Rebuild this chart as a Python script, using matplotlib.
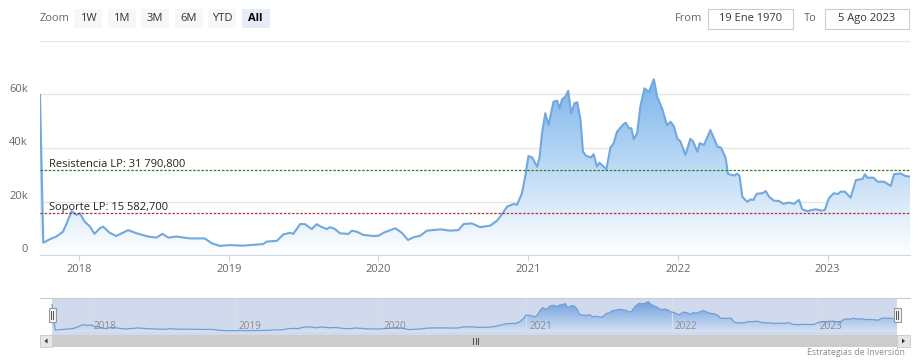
import numpy as np
import matplotlib
matplotlib.use("Agg")
import matplotlib.pyplot as plt
import matplotlib.dates as mdates
from matplotlib.patches import Rectangle, PathPatch, Polygon
from matplotlib.colors import LinearSegmentedColormap
from matplotlib.transforms import offset_copy, blended_transform_factory

plt.rcParams["font.family"] = ["Open Sans", "DejaVu Sans"]

# --- data ----------------------------------------------------------------
dates = np.array([
    "2017-09-27", "2017-10-05", "2017-10-21", "2017-11-06", "2017-11-22",
    "2017-12-01", "2017-12-13", "2017-12-25", "2018-01-02", "2018-01-14",
    "2018-01-27", "2018-02-07", "2018-02-20", "2018-02-28", "2018-03-16",
    "2018-04-01", "2018-04-30", "2018-05-21", "2018-06-18", "2018-07-08",
    "2018-07-23", "2018-08-06", "2018-08-26", "2018-09-28", "2018-11-03",
    "2018-11-20", "2018-12-10", "2019-01-04", "2019-02-05", "2019-02-21",
    "2019-03-18", "2019-03-26", "2019-04-03", "2019-04-28", "2019-05-14",
    "2019-05-30", "2019-06-07", "2019-06-24", "2019-07-06", "2019-07-22",
    "2019-08-03", "2019-08-16", "2019-08-28", "2019-09-05", "2019-09-17",
    "2019-09-29", "2019-10-20", "2019-10-28", "2019-11-09", "2019-11-25",
    "2019-12-20", "2020-01-01", "2020-01-13", "2020-02-11", "2020-02-27",
    "2020-03-13", "2020-03-26", "2020-04-12", "2020-04-28", "2020-05-31",
    "2020-06-24", "2020-07-14", "2020-07-27", "2020-08-16", "2020-09-05",
    "2020-09-30", "2020-10-16", "2020-10-24", "2020-11-10", "2020-11-26",
    "2020-12-04", "2020-12-16", "2020-12-24", "2021-01-01", "2021-01-10",
    "2021-01-22", "2021-01-28", "2021-02-03", "2021-02-11", "2021-02-19",
    "2021-03-03", "2021-03-12", "2021-03-18", "2021-03-24", "2021-04-01",
    "2021-04-08", "2021-04-15", "2021-04-23", "2021-04-30", "2021-05-08",
    "2021-05-14", "2021-05-22", "2021-06-03", "2021-06-09", "2021-06-17",
    "2021-06-23", "2021-07-10", "2021-07-20", "2021-07-28", "2021-08-05",
    "2021-08-21", "2021-08-26", "2021-09-03", "2021-09-09", "2021-09-15",
    "2021-09-23", "2021-10-01", "2021-10-11", "2021-10-22", "2021-11-03",
    "2021-11-11", "2021-11-23", "2021-12-05", "2021-12-14", "2021-12-22",
    "2021-12-30", "2022-01-07", "2022-01-19", "2022-01-31", "2022-02-07",
    "2022-02-17", "2022-02-23", "2022-03-05", "2022-03-21", "2022-04-07",
    "2022-04-16", "2022-04-27", "2022-05-03", "2022-05-18", "2022-05-25",
    "2022-05-31", "2022-06-07", "2022-06-19", "2022-06-27", "2022-07-04",
    "2022-07-12", "2022-07-26", "2022-08-03", "2022-08-11", "2022-08-23",
    "2022-09-04", "2022-09-15", "2022-09-29", "2022-10-11", "2022-10-23",
    "2022-10-31", "2022-11-12", "2022-12-03", "2022-12-15", "2022-12-25",
    "2023-01-04", "2023-01-16", "2023-01-26", "2023-02-02", "2023-02-12",
    "2023-02-26", "2023-03-11", "2023-03-27", "2023-04-02", "2023-04-08",
    "2023-04-23", "2023-05-03", "2023-05-19", "2023-06-04", "2023-06-12",
    "2023-06-28", "2023-07-10", "2023-07-21",
], dtype="datetime64[D]")

prices = np.array([
    59.8, 4.6, 5.9, 6.9, 8.7, 11.8, 16.4, 15.0, 15.6, 12.5,
    10.6, 7.9, 10.0, 10.6, 8.3, 7.1, 9.3, 8.1, 6.9, 6.5,
    7.9, 6.5, 6.9, 6.2, 6.2, 4.4, 3.4, 3.7, 3.5, 3.7,
    4.0, 4.1, 5.0, 5.3, 7.7, 8.3, 7.9, 11.6, 11.5, 9.7,
    11.5, 10.4, 9.7, 10.4, 9.7, 8.1, 7.9, 9.1, 8.7, 7.5,
    7.1, 7.2, 8.3, 10.0, 8.3, 5.6, 6.6, 7.2, 9.1, 9.6,
    9.1, 9.3, 11.6, 11.8, 10.4, 11.0, 12.8, 14.3, 18.1, 19.1,
    18.7, 23.1, 29.3, 37.0, 36.5, 33.0, 36.5, 45.5, 53.0, 48.6,
    57.3, 57.7, 54.8, 58.2, 59.2, 61.4, 53.0, 56.7, 57.1, 50.5,
    38.6, 37.0, 36.5, 37.7, 33.0, 34.5, 32.1, 40.1, 41.8, 46.1,
    48.9, 49.5, 47.4, 47.4, 43.3, 45.5, 55.5, 62.3, 61.0, 65.7,
    59.2, 54.8, 48.6, 49.8, 48.0, 43.6, 42.4, 37.4, 43.4, 42.4,
    38.6, 41.8, 41.1, 46.7, 40.6, 40.1, 36.4, 30.3, 29.7, 30.4,
    29.6, 21.7, 19.9, 20.8, 20.6, 22.9, 23.1, 23.9, 21.8, 20.3,
    20.2, 19.1, 19.6, 19.1, 20.6, 17.1, 16.4, 17.1, 16.6, 16.8,
    21.2, 23.1, 22.8, 23.7, 23.7, 21.4, 28.0, 28.4, 30.2, 28.9,
    28.9, 27.4, 27.4, 25.8, 30.2, 30.5, 29.5, 29.3,
]) * 1000

year_ticks = np.array(["2018-01-01", "2019-01-01", "2020-01-01",
                       "2021-01-01", "2022-01-01", "2023-01-01"], dtype="datetime64[D]")
y_ticks = [0, 20000, 40000, 60000, 80000]
y_tick_labels = ["0", "20k", "40k", "60k", ""]

resistance = 31790.8
support = 15582.7
resistance_label = "Resistencia LP: 31 790,800"
support_label = "Soporte LP: 15 582,700"

zoom_buttons = ["1W", "1M", "3M", "6M", "YTD", "All"]
date_from = "19 Ene 1970"
date_to = "5 Ago 2023"
credit = "Estrategias de Inversión"

# --- layout helpers (pixels of a 919x364 image) --------------------------
W, H = 919, 364


def px_rect(x0, y0, x1, y1):
    return [x0 / W, 1 - y1 / H, (x1 - x0) / W, (y1 - y0) / H]


def gradient_area(ax, x, y, top_color, bottom_color, ymax, z=1):
    poly = ax.fill_between(x, y, 0, facecolor="none", edgecolor="none")
    patch = PathPatch(poly.get_paths()[0], transform=ax.transData,
                      facecolor="none", edgecolor="none")
    ax.add_patch(patch)
    cmap = LinearSegmentedColormap.from_list("area", [bottom_color, top_color])
    grad = np.linspace(0, 1, 256).reshape(-1, 1)
    im = ax.imshow(grad, cmap=cmap, aspect="auto", origin="lower",
                   extent=[x[0], x[-1], 0, ymax], zorder=z)
    im.set_clip_path(patch)


xn = mdates.date2num(dates)
tick_n = mdates.date2num(year_ticks)

fig = plt.figure(figsize=(W / 100, H / 100), dpi=100)

# --- main chart -----------------------------------------------------------
ax = fig.add_axes(px_rect(40, 41, 910, 255))
gradient_area(ax, xn, prices, "#7cb5ec", "#ffffff", prices.max())
ax.plot(xn, prices, color="#72a8dc", lw=1.5, zorder=3)
ax.set_xlim(xn[0], xn[-1])
ax.set_ylim(0, 80000)

ax.set_yticks(y_ticks)
ax.yaxis.grid(True, color="#e6e6e6", lw=1)
ax.set_axisbelow(True)
ax.tick_params(axis="y", length=0, labelleft=False)
ylab_tr = offset_copy(ax.get_yaxis_transform(), fig=fig, x=-12, y=5, units="dots")
for v, lab in zip(y_ticks, y_tick_labels):
    ax.text(0, v, lab, transform=ylab_tr, ha="right", va="center",
            fontsize=8, color="#666666")

ax.set_xticks(tick_n)
ax.set_xticklabels([str(d)[:4] for d in year_ticks])
ax.tick_params(axis="x", length=4.5, width=0.8, color="#ccd6eb", pad=2,
               labelsize=8, labelcolor="#666666")
for side in ("top", "left", "right"):
    ax.spines[side].set_visible(False)
ax.spines["bottom"].set_color("#ccd6eb")

ax.axhline(resistance, color="#2f7d32", lw=0.9, ls=(0, (2, 1.3)), zorder=4)
ax.axhline(support, color="#a23a3a", lw=0.9, ls=(0, (2, 1.3)), zorder=4)
lbl_tr = offset_copy(ax.get_yaxis_transform(), fig=fig, x=9, y=3, units="dots")
ax.text(0, resistance, resistance_label, transform=lbl_tr, ha="left",
        va="baseline", fontsize=8, color="#222222", zorder=5)
ax.text(0, support, support_label, transform=lbl_tr, ha="left",
        va="baseline", fontsize=8, color="#222222", zorder=5)

# --- navigator ------------------------------------------------------------
nav = fig.add_axes(px_rect(40, 298, 910, 335))
ppd = (897 - 52) / (xn[-1] - xn[0])
nav.set_xlim(xn[0] - 12 / ppd, xn[-1] + 13 / ppd)
gradient_area(nav, xn, prices, "#6f9fdc", "#d6e2f4", prices.max(), z=2)
nav.plot(xn, prices, color="#6f9fd8", lw=0.9, zorder=3)
nav.set_xlim(xn[0] - 12 / ppd, xn[-1] + 13 / ppd)
nav.set_ylim(-5800, 73600)
nav.add_patch(Rectangle((xn[0], 0), xn[-1] - xn[0], 1,
                        transform=blended_transform_factory(nav.transData, nav.transAxes),
                        facecolor=(102 / 255, 133 / 255, 194 / 255, 0.3),
                        edgecolor="none", zorder=1))
nav.set_xticks(tick_n)
nav.xaxis.grid(True, color="#d8dde8", lw=0.8)
nav.set_axisbelow(False)
nav.tick_params(length=0, labelbottom=False, labelleft=False)
nav.set_yticks([])
nav_lab_tr = offset_copy(nav.get_xaxis_transform(), fig=fig, x=3, y=0, units="dots")
for t, d in zip(tick_n, year_ticks):
    nav.text(t, 0.24, str(d)[:4], transform=nav_lab_tr, ha="left", va="center",
             fontsize=7.2, color="#8c8c8c", zorder=4)
for side in ("left", "right", "bottom"):
    nav.spines[side].set_visible(False)
nav.spines["top"].set_color("#cccccc")

# --- overlay: range selector, scrollbar, handles, credit ------------------
ov = fig.add_axes([0, 0, 1, 1], zorder=10)
ov.set_xlim(0, W)
ov.set_ylim(H, 0)
ov.axis("off")
ov.patch.set_alpha(0)

ov.text(40, 18.5, "Zoom", ha="left", va="center", fontsize=8, color="#666666")
for i, lab in enumerate(zoom_buttons):
    x0 = 74 + i * 33.5
    active = lab == "All"
    ov.add_patch(Rectangle((x0, 9), 28, 19, facecolor="#e6ebf5" if active else "#f7f7f7",
                           edgecolor="none"))
    ov.text(x0 + 14, 18.5, lab, ha="center", va="center", fontsize=8,
            color="#000000" if active else "#333333",
            fontweight="bold" if active else "normal")

ov.text(702, 18.5, "From", ha="right", va="center", fontsize=8, color="#666666")
ov.add_patch(Rectangle((708, 9), 85, 20, facecolor="white", edgecolor="#cccccc", lw=0.8))
ov.text(750.5, 18.5, date_from, ha="center", va="center", fontsize=8, color="#333333")
ov.text(817, 18.5, "To", ha="right", va="center", fontsize=8, color="#666666")
ov.add_patch(Rectangle((825, 9), 84, 20, facecolor="white", edgecolor="#cccccc", lw=0.8))
ov.text(867, 18.5, date_to, ha="center", va="center", fontsize=8, color="#333333")

# navigator handles
for hx in (52, 897):
    ov.add_patch(Rectangle((hx - 3.5, 308), 7, 14, facecolor="#f2f2f2",
                           edgecolor="#999999", lw=0.8))
    for dx in (-1, 1):
        ov.plot([hx + dx, hx + dx], [311, 319], color="#333333", lw=0.6)

# scrollbar
ov.add_patch(Rectangle((40, 335), 870, 12, facecolor="#cccccc", edgecolor="none"))
ov.add_patch(Rectangle((40, 335), 12, 12, facecolor="#e6e6e6", edgecolor="#cccccc", lw=0.6))
ov.add_patch(Rectangle((897, 335), 13, 12, facecolor="#e6e6e6", edgecolor="#cccccc", lw=0.6))
ov.add_patch(Polygon([[47.5, 338.5], [47.5, 343.5], [44.5, 341]], closed=True,
                     facecolor="#333333", edgecolor="none"))
ov.add_patch(Polygon([[902, 338.5], [902, 343.5], [905, 341]], closed=True,
                     facecolor="#333333", edgecolor="none"))
for rx in (473, 475.5, 478):
    ov.plot([rx, rx], [338, 344], color="#333333", lw=0.6)

ov.text(905, 352.5, credit, ha="right", va="center", fontsize=6.3, color="#8c8c8c")

fig.savefig("out.png", dpi=100, facecolor="white")
